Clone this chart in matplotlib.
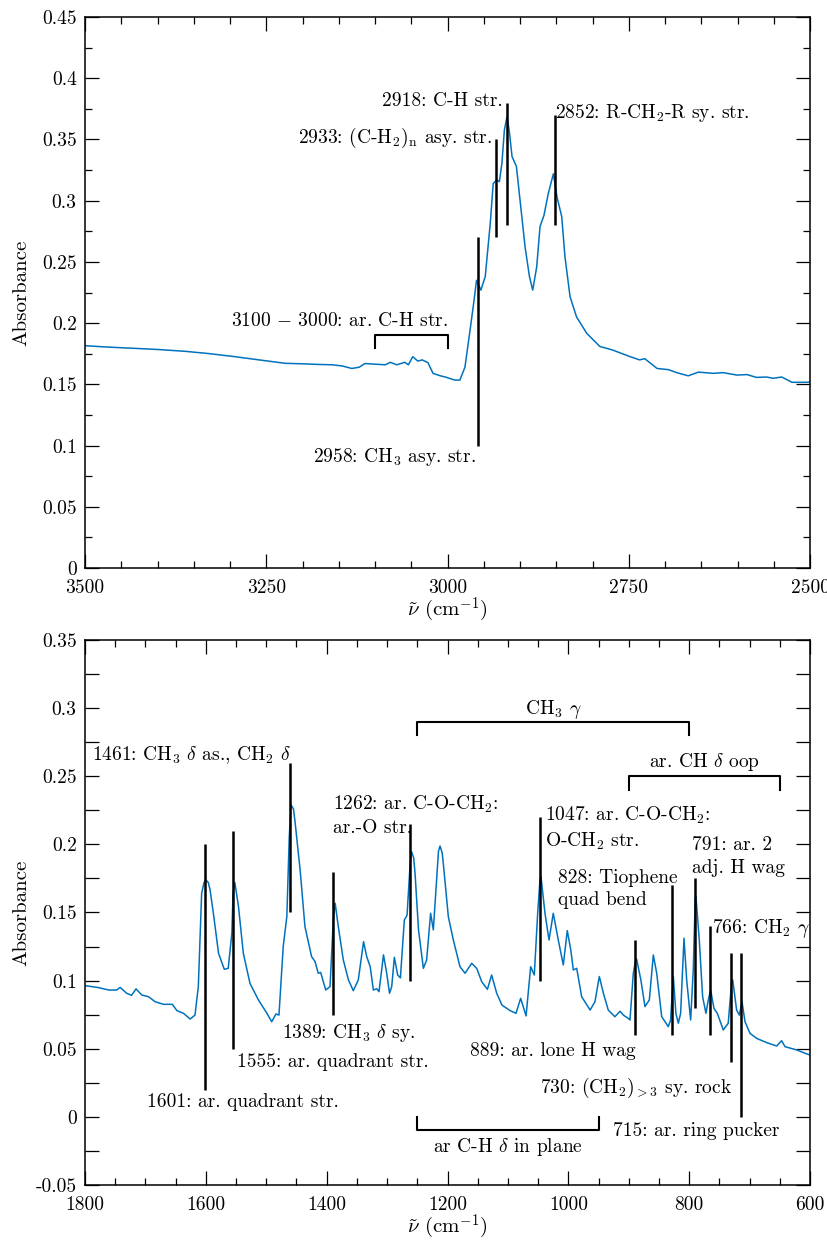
import matplotlib
matplotlib.use('Agg')
import matplotlib.pyplot as plt
from matplotlib.ticker import MultipleLocator, FuncFormatter

plt.rcParams['font.family'] = 'serif'
plt.rcParams['font.serif'] = ['cmr10']
plt.rcParams['mathtext.fontset'] = 'cm'
plt.rcParams['axes.unicode_minus'] = False
plt.rcParams['font.size'] = 14

# ---- data: 3500-2500 cm-1 region ----
wn_high = [3500, 3470, 3431, 3400, 3362, 3330, 3293, 3260, 3224, 3200, 3179, 3159,
           3145, 3132, 3122, 3114, 3100, 3086, 3079, 3070, 3059, 3054, 3048, 3041,
           3035, 3027, 3020, 3010, 3003, 2990, 2983, 2976, 2969, 2964, 2960, 2954,
           2948, 2941, 2937, 2932, 2928.5, 2925, 2921.6, 2918, 2915, 2911, 2905,
           2900, 2893, 2887, 2882.5, 2877, 2872.4, 2867, 2861, 2854, 2849, 2842.5,
           2838, 2831, 2822, 2808, 2790, 2772, 2748, 2735, 2728, 2711, 2695, 2684,
           2668, 2654, 2633, 2620, 2601, 2587, 2574, 2560, 2551, 2539, 2525, 2505, 2500]
abs_high = [0.1816, 0.1805, 0.1794, 0.1785, 0.1770, 0.1752, 0.1726, 0.1700, 0.1672,
            0.1668, 0.1663, 0.1660, 0.1650, 0.1630, 0.1640, 0.1670, 0.1665, 0.1660,
            0.1680, 0.1660, 0.1680, 0.1660, 0.1726, 0.1690, 0.1700, 0.1677, 0.1590,
            0.1570, 0.1560, 0.1535, 0.1535, 0.1640, 0.1940, 0.2160, 0.2350, 0.2270,
            0.2380, 0.2820, 0.3140, 0.3170, 0.3155, 0.3305, 0.3577, 0.3686, 0.3577,
            0.3360, 0.3280, 0.3005, 0.2620, 0.2380, 0.2270, 0.2460, 0.2790, 0.2880,
            0.3060, 0.3220, 0.3030, 0.2870, 0.2540, 0.2216, 0.2050, 0.1917, 0.1810,
            0.1780, 0.1726, 0.1700, 0.1710, 0.1630, 0.1620, 0.1596, 0.1570, 0.1600,
            0.1590, 0.1596, 0.1576, 0.1580, 0.1557, 0.1560, 0.1550, 0.1560, 0.1517,
            0.1517, 0.1520]

# ---- data: 1800-600 cm-1 region ----
wn_low = [1800, 1778, 1761, 1747.5, 1742, 1731, 1723, 1715.6, 1706, 1695, 1684, 1670,
          1655.5, 1648, 1637, 1626, 1618, 1612.5, 1607, 1603, 1600, 1596, 1593, 1587.6,
          1579, 1569.5, 1563, 1557, 1555, 1552, 1546, 1538, 1527, 1513, 1499, 1491,
          1484, 1479, 1472, 1466, 1462, 1459, 1455, 1452.4, 1444, 1436, 1425, 1419.3,
          1414, 1410, 1401.6, 1394.5, 1389, 1386, 1380.8, 1372.5, 1364, 1356, 1347.7,
          1339, 1333.8, 1328, 1322.8, 1317, 1313.4, 1306, 1300.7, 1296, 1292.4, 1288,
          1282.5, 1278, 1271.5, 1267, 1262, 1259.5, 1256, 1253.8, 1248, 1240, 1234.6,
          1228, 1223.5, 1218, 1215, 1212.4, 1209, 1207, 1198.7, 1190.4, 1179.4, 1171,
          1160, 1151.7, 1143.4, 1134, 1127, 1118.6, 1110, 1096.6, 1086.7, 1079, 1070,
          1062.4, 1056.4, 1050.8, 1047, 1045.3, 1038.7, 1032, 1025, 1016.7, 1008.4,
          1001.8, 996, 991.8, 986.2, 978, 964, 956, 948.8, 942, 934, 923, 914.5, 909,
          900.8, 898, 892.5, 889, 887, 880, 873.2, 866, 859.4, 853.8, 845.5, 834.6,
          830.8, 826.3, 822, 818, 814.2, 808.6, 804.2, 797.6, 793.3, 790, 788.8, 783.3,
          777.8, 772.3, 768.4, 764.5, 759, 753.5, 743.6, 735.4, 730, 728, 721.5, 717,
          712.6, 707.6, 699.4, 688.3, 671.8, 655.2, 647, 641.4, 622, 608.4, 600]
abs_low = [0.0963, 0.0949, 0.0931, 0.0931, 0.0950, 0.0907, 0.0892, 0.0939, 0.0894,
           0.0882, 0.0845, 0.0826, 0.0826, 0.0780, 0.0760, 0.0718, 0.0747, 0.0956,
           0.1640, 0.1720, 0.1739, 0.1720, 0.1665, 0.1494, 0.1200, 0.1083, 0.1090,
           0.1347, 0.1640, 0.1719, 0.1543, 0.1200, 0.0980, 0.0858, 0.0760, 0.0698,
           0.0755, 0.0747, 0.1249, 0.1470, 0.2050, 0.2289, 0.2260, 0.2166, 0.1812,
           0.1396, 0.1176, 0.1140, 0.1054, 0.1060, 0.0931, 0.0956, 0.1450, 0.1568,
           0.1396, 0.1151, 0.1005, 0.0926, 0.1005, 0.1286, 0.1176, 0.1102, 0.0931,
           0.0940, 0.0919, 0.1189, 0.1054, 0.0907, 0.0956, 0.1171, 0.1041, 0.1020,
           0.1445, 0.1480, 0.1850, 0.1946, 0.1900, 0.1788, 0.1372, 0.1090, 0.1151,
           0.1494, 0.1372, 0.1739, 0.1950, 0.1988, 0.1940, 0.1860, 0.1470, 0.1298,
           0.1102, 0.1054, 0.1127, 0.1090, 0.0992, 0.0936, 0.1041, 0.0907, 0.0821,
           0.0780, 0.0760, 0.0870, 0.0741, 0.1102, 0.1041, 0.1494, 0.1740, 0.1763,
           0.1494, 0.1298, 0.1494, 0.1298, 0.1115, 0.1367, 0.1225, 0.1078, 0.1090,
           0.0882, 0.0784, 0.0845, 0.1030, 0.0907, 0.0784, 0.0735, 0.0775, 0.0747,
           0.0723, 0.0711, 0.1054, 0.1140, 0.1157, 0.1005, 0.0809, 0.0858, 0.1188,
           0.1054, 0.0735, 0.0662, 0.0711, 0.1030, 0.0760, 0.0687, 0.0760, 0.1311,
           0.1005, 0.0711, 0.1078, 0.1600, 0.1616, 0.1298, 0.0882, 0.0760, 0.0858,
           0.0931, 0.0796, 0.0760, 0.0638, 0.0687, 0.0980, 0.1005, 0.0784, 0.0747,
           0.0845, 0.0698, 0.0613, 0.0576, 0.0545, 0.0520, 0.0559, 0.0515, 0.0491,
           0.0467, 0.0454]

# peak markers: position, bottom, top
peaks_high = [2958, 2933, 2918, 2852]
bot_high = [0.10, 0.27, 0.28, 0.28]
top_high = [0.27, 0.35, 0.38, 0.37]

peaks_low = [1601, 1555, 1461, 1389, 1262, 1047, 889, 828, 791, 766, 730, 715]
bot_low = [0.02, 0.05, 0.15, 0.075, 0.10, 0.10, 0.06, 0.06, 0.08, 0.06, 0.04, 0.0]
top_low = [0.20, 0.21, 0.26, 0.18, 0.215, 0.22, 0.13, 0.17, 0.175, 0.14, 0.12, 0.12]

blue = '#0072BD'


def bracket(ax, x0, x1, y, tip):
    ax.plot([x0, x0, x1, x1], [tip, y, y, tip], color='k', lw=1.5)


def style(ax):
    for s in ax.spines.values():
        s.set_linewidth(1.1)
    ax.tick_params(which='both', direction='in', top=True, right=True, width=0.9)
    ax.tick_params(which='major', length=10, pad=6, labelsize=14)
    ax.tick_params(axis='x', which='major', pad=8)
    ax.tick_params(which='minor', length=5)
    ax.yaxis.set_major_formatter(FuncFormatter(lambda v, p: '%g' % round(v, 3)))


fig = plt.figure(figsize=(8.28, 12.43), dpi=100)

# ---------------- top panel ----------------
ax1 = fig.add_axes([0.1027, 0.5430, 0.8756, 0.4433])
ax1.plot(wn_high, abs_high, color=blue, lw=1.1)
ax1.vlines(peaks_high, bot_high, top_high, color='k', lw=1.8)
bracket(ax1, 3100, 3000, 0.19, 0.18)
ax1.text(3000, 0.202, r'3100 $-$ 3000: ar. C-H str.', ha='right', va='center')
ax1.text(2960.7, 0.091, r'2958: CH$_3$ asy. str.', ha='right', va='center')
ax1.text(2939, 0.351, r'2933: (C-H$_2$)$_\mathrm{n}$ asy. str.', ha='right', va='center')
ax1.text(2924, 0.3817, r'2918: C-H str.', ha='right', va='center')
ax1.text(2851.7, 0.3714, r'2852: R-CH$_2$-R sy. str.', ha='left', va='center')

ax1.set_xlim(3500, 2500)
ax1.set_ylim(0, 0.45)
ax1.xaxis.set_major_locator(MultipleLocator(250))
ax1.xaxis.set_minor_locator(MultipleLocator(50))
ax1.yaxis.set_major_locator(MultipleLocator(0.05))
ax1.yaxis.set_minor_locator(MultipleLocator(0.025))
style(ax1)
ax1.set_xlabel(r'$\tilde{\nu}$ (cm$^{-1}$)', fontsize=15)
ax1.set_ylabel('Absorbance', fontsize=15)
ax1.xaxis.set_label_coords(0.5, -0.05)
ax1.yaxis.set_label_coords(-0.075, 0.5)

# ---------------- bottom panel ----------------
ax2 = fig.add_axes([0.1027, 0.04666, 0.8756, 0.4385])
ax2.plot(wn_low, abs_low, color=blue, lw=1.1)
ax2.vlines(peaks_low, bot_low, top_low, color='k', lw=1.8)
bracket(ax2, 1250, 800, 0.29, 0.28)
bracket(ax2, 900, 650, 0.25, 0.24)
bracket(ax2, 1250, 950, -0.01, 0.0)
ax2.text(1025, 0.2986, r'CH$_3$ $\gamma$', ha='center', va='center')
ax2.text(775, 0.2607, r'ar. CH $\delta$ oop', ha='center', va='center')
ax2.text(1100, -0.022, r'ar C-H $\delta$ in plane', ha='center', va='center')

ax2.text(1458, 0.2656, r'1461: CH$_3$ $\delta$ as., CH$_2$ $\delta$', ha='right', va='center')
ax2.text(1389.5, 0.2212, '1262: ar. C-O-CH$_2$:\nar.-O str.', ha='left', va='center',
         linespacing=1.3)
ax2.text(1038.7, 0.212, '1047: ar. C-O-CH$_2$:\nO-CH$_2$ str.', ha='left', va='center',
         linespacing=1.3)
ax2.text(1016.6, 0.1672, '828: Tiophene\nquad bend', ha='left', va='center',
         linespacing=1.3)
ax2.text(796, 0.191, '791: ar. 2\nadj. H wag', ha='left', va='center', linespacing=1.3)
ax2.text(763, 0.1384, r'766: CH$_2$ $\gamma$', ha='left', va='center')
ax2.text(1697, 0.011, '1601: ar. quadrant str.', ha='left', va='center')
ax2.text(1549, 0.0405, '1555: ar. quadrant str.', ha='left', va='center')
ax2.text(1474.6, 0.0613, r'1389: CH$_3$ $\delta$ sy.', ha='left', va='center')
ax2.text(888, 0.048, '889: ar. lone H wag', ha='right', va='center')
ax2.text(729, 0.0212, r'730: (CH$_2$)$_{>3}$ sy. rock', ha='right', va='center')
ax2.text(650, -0.0106, '715: ar. ring pucker', ha='right', va='center')

ax2.set_xlim(1800, 600)
ax2.set_ylim(-0.05, 0.35)
ax2.xaxis.set_major_locator(MultipleLocator(200))
ax2.xaxis.set_minor_locator(MultipleLocator(50))
ax2.yaxis.set_major_locator(MultipleLocator(0.05))
ax2.yaxis.set_minor_locator(MultipleLocator(0.025))
style(ax2)
ax2.tick_params(axis='y', which='minor', length=10)
ax2.set_xlabel(r'$\tilde{\nu}$ (cm$^{-1}$)', fontsize=15)
ax2.set_ylabel('Absorbance', fontsize=15)
ax2.xaxis.set_label_coords(0.5, -0.05)
ax2.yaxis.set_label_coords(-0.075, 0.5)

fig.savefig('out.png', dpi=100)
